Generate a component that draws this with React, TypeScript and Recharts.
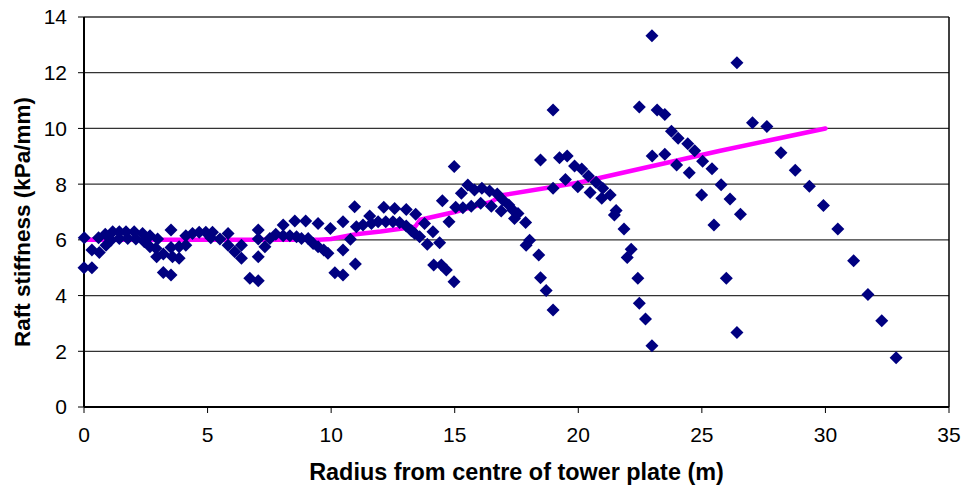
import { ScatterChart, Scatter, XAxis, YAxis, CartesianGrid, ReferenceLine } from 'recharts'

// Measured points (radius in m, stiffness in kPa/mm)
const radius = [
  0.01, 0, 0.32, 0.32, 0.62, 0.59, 0.89, 0.86, 1.09, 1.16, 1.43, 1.43, 1.7, 1.77, 2.03, 2.1, 2.37, 2.44, 2.67, 2.67,
  2.91, 2.98, 2.94, 3.21, 3.21, 3.52, 3.52, 3.52, 3.58, 3.85, 3.85, 4.12, 4.12, 4.39, 4.66, 4.93, 5.13, 5.2,
  5.5, 5.83, 5.83, 6.1, 6.37, 6.37, 6.71, 7.05, 7.05, 7.05, 7.05, 7.32, 7.52, 7.76, 8.06, 8.06, 8.33, 8.53, 8.6,
  8.97, 8.8, 9.07, 9.27, 9.47, 9.47, 9.7, 9.87, 9.97,
  10.15, 10.48, 10.48, 10.78, 10.48, 10.98, 10.95, 11.02, 11.29, 11.56, 11.63, 11.9, 12.13, 12.21, 12.5, 12.57,
  12.77, 13.04, 13.04, 13.25, 13.42, 13.38, 13.58, 13.78, 13.89, 14.12, 14.39, 14.5, 14.77, 14.15, 14.46, 14.66, 14.97,
  14.98, 15.04, 15.27, 15.33, 15.53, 15.67, 15.8, 16.05, 16.1, 16.41, 16.48, 16.72, 16.88, 16.95, 17.19, 17.35,
  17.42, 17.56, 17.87, 18.03, 17.89, 18.4, 18.47, 18.7, 18.98, 18.47, 18.98, 18.98, 19.24, 19.55, 19.48, 19.85,
  19.98, 20.14,
  20.41, 20.72, 20.99, 21.29, 20.48, 20.95, 21.53, 21.46, 21.85, 22.14, 21.98, 22.41, 22.47, 22.72, 22.98, 22.98,
  22.47, 23.19, 23.5, 23.77, 24.04, 24.43, 24.71, 25.03, 25.41, 25.78, 26.14, 26.56, 22.99, 23.5, 23.98, 24.49,
  24.99, 25.49, 25.99, 26.42, 26.42,
  27.05, 27.63, 28.2, 28.78, 29.35, 29.92, 30.5, 31.14, 31.72, 32.28, 32.86,
]

const stiffness = [
  6.08, 5.0, 5.0, 5.64, 5.55, 6.08, 5.81, 6.2, 5.99, 6.29, 6.29, 6.05, 6.29, 6.05, 6.29, 6.03, 6.23, 5.93, 6.15, 5.75,
  5.7, 6.03, 5.39, 5.49, 4.83, 4.74, 6.35, 5.73, 5.39, 5.34, 5.75, 5.81, 6.15, 6.23, 6.27, 6.27, 6.08, 6.27,
  6.03, 6.23, 5.81, 5.57, 5.81, 5.34, 4.62, 4.53, 6.35, 5.39, 6.03, 5.75, 6.05, 6.2, 6.53, 6.15, 6.15, 6.68, 6.11,
  6.68, 6.05, 6.05, 5.87, 6.59, 5.75, 5.64, 5.52, 6.41,
  4.82, 4.74, 6.65, 6.02, 5.64, 5.13, 7.19, 6.47, 6.53, 6.86, 6.59, 6.65, 7.17, 6.65, 6.65, 7.13,
  6.62, 7.09, 6.5, 6.33, 6.92, 6.23, 6.11, 6.59, 5.84, 6.29, 5.9, 7.4, 6.65, 5.1, 5.1, 4.92, 4.5,
  8.63, 7.17, 7.67, 7.15, 7.97, 7.21, 7.79, 7.31, 7.85, 7.75, 7.21, 7.65, 7.04, 7.43, 7.25, 7.07,
  6.77, 6.95, 6.62, 5.99, 5.81, 5.46, 4.64, 4.18, 3.48, 8.87, 10.66, 7.85, 8.95, 9.01, 8.17, 8.65,
  7.91, 8.54,
  8.29, 8.07, 7.85, 7.61, 7.7, 7.49, 7.05, 6.89, 6.39, 5.66, 5.37, 4.62, 3.72, 3.16, 2.2, 13.33,
  10.77, 10.66, 10.5, 9.9, 9.65, 9.45, 9.2, 8.82, 8.55, 7.98, 7.47, 6.92, 9.01, 9.07, 8.69, 8.41,
  7.61, 6.53, 4.62, 2.67, 12.36,
  10.2, 10.07, 9.13, 8.5, 7.92, 7.23, 6.39, 5.25, 4.04, 3.1, 1.77,
]

// Design stiffness line
const trendRadius = [0, 9.5, 10, 11, 12, 13.4, 13.6, 15, 16.5, 16.9, 20, 25.7, 30]
const trendStiffness = [6, 6, 6.03, 6.2, 6.3, 6.47, 6.72, 7.0, 7.37, 7.6, 8.05, 9.19, 10]

const xTicks = [0, 5, 10, 15, 20, 25, 30, 35]
const yTicks = [0, 2, 4, 6, 8, 10, 12, 14]

const points = radius.map((x, i) => ({ x, y: stiffness[i] }))
const trend = trendRadius.map((x, i) => ({ x, y: trendStiffness[i] }))

const FONT = '"Liberation Sans", Arial, sans-serif'

function Diamond(props: any) {
  const { cx, cy } = props
  if (cx == null || cy == null) return <g />
  const r = 6.5
  return (
    <polygon
      points={`${cx},${cy - r} ${cx + r},${cy} ${cx},${cy + r} ${cx - r},${cy}`}
      fill="#000080"
    />
  )
}

export default function App() {
  return (
    <div style={{ position: 'absolute', left: 0, top: 0, width: 963, height: 496, background: '#fff' }}>
      <ScatterChart width={963} height={496} margin={{ top: 17, right: 14, bottom: 0, left: 0 }}>
        <CartesianGrid vertical={false} stroke="#333" strokeWidth={1.3} />
        <XAxis
          type="number"
          dataKey="x"
          domain={[0, 35]}
          ticks={xTicks}
          height={89}
          tickSize={6}
          tickMargin={14}
          axisLine={{ stroke: '#000', strokeWidth: 2 }}
          tickLine={{ stroke: '#000' }}
          tick={{ fill: '#000', fontSize: 21, fontFamily: FONT }}
          label={{
            value: 'Radius from centre of tower plate (m)',
            position: 'insideBottom',
            offset: 16,
            style: { fill: '#000', fontSize: 23.4, fontWeight: 'bold', fontFamily: FONT },
          }}
        />
        <YAxis
          type="number"
          dataKey="y"
          domain={[0, 14]}
          ticks={yTicks}
          width={84}
          tickSize={6}
          tickMargin={11}
          axisLine={{ stroke: '#000', strokeWidth: 2 }}
          tickLine={{ stroke: '#000' }}
          tick={{ fill: '#000', fontSize: 21, fontFamily: FONT }}
          label={{
            content: () => (
              <text
                x={22}
                y={222}
                transform="rotate(-90 22 222)"
                textAnchor="middle"
                dominantBaseline="central"
                style={{ fill: '#000', fontSize: 22.5, fontWeight: 'bold', fontFamily: FONT }}
              >
                Raft stiffness (kPa/mm)
              </text>
            ),
          }}
        />
        <ReferenceLine x={35} stroke="#000" strokeWidth={1.5} />
        <Scatter
          data={trend}
          line={{ stroke: '#ff00ff', strokeWidth: 4.5, strokeLinecap: 'round', strokeLinejoin: 'round' }}
          lineType="joint"
          shape={() => <g />}
          isAnimationActive={false}
        />
        <Scatter data={points} shape={Diamond} isAnimationActive={false} />
      </ScatterChart>
    </div>
  )
}
